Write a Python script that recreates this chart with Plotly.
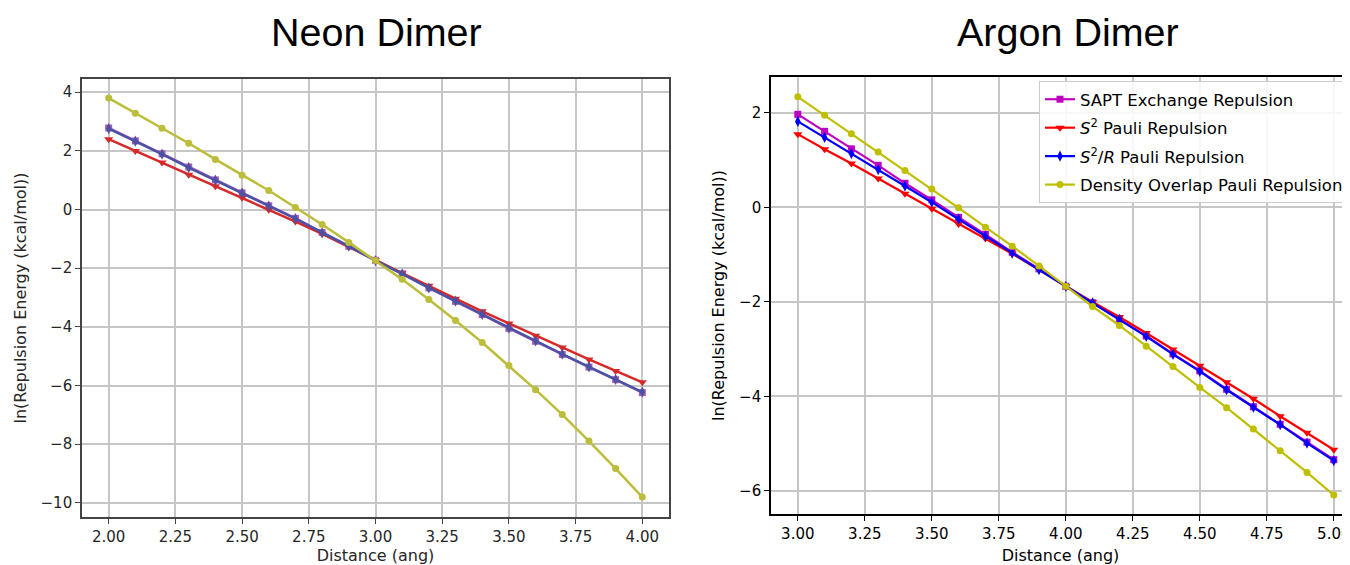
import plotly.graph_objects as go

# ---------------- data ----------------
x_ne = [2.0, 2.1, 2.2, 2.3, 2.4, 2.5, 2.6, 2.7, 2.8, 2.9, 3.0,
        3.1, 3.2, 3.3, 3.4, 3.5, 3.6, 3.7, 3.8, 3.9, 4.0]
ne_sapt = [2.78, 2.34, 1.90, 1.45, 1.01, 0.57, 0.13, -0.30, -0.78, -1.25, -1.73,
           -2.19, -2.67, -3.13, -3.58, -4.05, -4.49, -4.94, -5.37, -5.80, -6.24]
ne_s2 = [2.40, 2.00, 1.60, 1.19, 0.79, 0.40, -0.01, -0.41, -0.83, -1.28, -1.73,
         -2.17, -2.60, -3.04, -3.47, -3.88, -4.30, -4.70, -5.11, -5.50, -5.89]
ne_s2r = [2.76, 2.33, 1.89, 1.43, 1.00, 0.56, 0.12, -0.31, -0.79, -1.25, -1.74,
          -2.19, -2.67, -3.12, -3.57, -4.04, -4.48, -4.93, -5.36, -5.79, -6.22]
ne_do = [3.80, 3.28, 2.77, 2.26, 1.71, 1.17, 0.65, 0.07, -0.51, -1.12, -1.74,
         -2.38, -3.07, -3.78, -4.53, -5.32, -6.14, -6.99, -7.89, -8.83, -9.80]

x_ar = [3.0, 3.1, 3.2, 3.3, 3.4, 3.5, 3.6, 3.7, 3.8, 3.9, 4.0,
        4.1, 4.2, 4.3, 4.4, 4.5, 4.6, 4.7, 4.8, 4.9, 5.0]
ar_sapt = [1.97, 1.61, 1.24, 0.89, 0.51, 0.16, -0.21, -0.57, -0.95, -1.30, -1.67,
           -2.02, -2.37, -2.72, -3.10, -3.46, -3.85, -4.22, -4.59, -4.97, -5.34]
ar_s2 = [1.55, 1.23, 0.93, 0.61, 0.29, -0.03, -0.35, -0.66, -0.98, -1.32, -1.67,
         -2.00, -2.32, -2.66, -3.01, -3.35, -3.70, -4.05, -4.42, -4.77, -5.13]
ar_s2r = [1.82, 1.48, 1.14, 0.80, 0.45, 0.11, -0.25, -0.61, -0.97, -1.32, -1.67,
          -2.02, -2.37, -2.73, -3.11, -3.47, -3.86, -4.23, -4.60, -4.99, -5.36]
ar_do = [2.34, 1.95, 1.56, 1.17, 0.78, 0.39, -0.01, -0.42, -0.82, -1.24, -1.67,
         -2.10, -2.50, -2.94, -3.37, -3.81, -4.24, -4.69, -5.15, -5.61, -6.09]

series_names = ["SAPT Exchange Repulsion",
                "<i>S</i><sup>2</sup> Pauli Repulsion",
                "<i>S</i><sup>2</sup>/<i>R</i> Pauli Repulsion",
                "Density Overlap Pauli Repulsion"]
titles = ["Neon Dimer", "Argon Dimer"]
x_title = "Distance (ang)"
y_title = "ln(Repulsion Energy (kcal/mol))"
x_ticks_ne = [2.0, 2.25, 2.5, 2.75, 3.0, 3.25, 3.5, 3.75, 4.0]
x_ticks_ar = [3.0, 3.25, 3.5, 3.75, 4.0, 4.25, 4.5, 4.75, 5.0]
y_ticks_ne = [4, 2, 0, -2, -4, -6, -8, -10]
y_ticks_ar = [2, 0, -2, -4, -6]

# ---------------- styles ----------------
ne_colors = ["#b45ab4", "#d62a2a", "#4a52a6", "#bcbd3a"]
ar_colors = ["#bf00bf", "#ff0000", "#0000ff", "#bfbf00"]
symbols = ["square", "triangle-down", "diamond-tall", "circle"]
msizes = [7, 8, 8, 7]

# page body has an 8px margin: figure is shifted by (8, 8)
OFF = 8
W, H = 1350 - OFF, 565 - OFF

fig = go.Figure()

ne_data = [ne_sapt, ne_s2, ne_s2r, ne_do]
ar_data = [ar_sapt, ar_s2, ar_s2r, ar_do]

for i in range(4):
    fig.add_trace(go.Scatter(
        x=x_ne, y=ne_data[i], mode="lines+markers", name=series_names[i],
        line=dict(color=ne_colors[i], width=2.5),
        marker=dict(symbol=symbols[i], size=msizes[i], color=ne_colors[i]),
        showlegend=False, xaxis="x", yaxis="y"))

for i in range(4):
    fig.add_trace(go.Scatter(
        x=x_ar, y=ar_data[i], mode="lines+markers", name=series_names[i],
        legendgroup=f"g{i}",
        line=dict(color=ar_colors[i], width=2.2),
        marker=dict(symbol=symbols[i], size=msizes[i], color=ar_colors[i]),
        showlegend=True, xaxis="x2", yaxis="y2"))

font_family = "DejaVu Sans"
grid_col = "#c6c6c6"

def xpx(p):
    return (p - OFF) / W

def ypx(p):
    return 1 - (p - OFF) / H

fig.update_layout(
    width=W, height=H,
    margin=dict(l=0, r=0, t=0, b=0),
    paper_bgcolor="white", plot_bgcolor="white",
    font=dict(family=font_family, size=15, color="black"),
    xaxis=dict(domain=[xpx(82), xpx(669)], range=[1.9, 4.1],
               tickvals=x_ticks_ne, ticktext=[f"{v:.2f}" for v in x_ticks_ne],
               showgrid=True, gridcolor=grid_col, gridwidth=1.5,
               showline=True, linecolor="#444444", linewidth=1.6, mirror=True,
               ticks="outside", ticklen=5, tickcolor="#444444", tickwidth=1.3,
               tickfont=dict(size=15, color="#262626"),
               zeroline=False, automargin=False,
               title=dict(text=x_title, font=dict(size=16, color="#262626"), standoff=8),
               anchor="y"),
    yaxis=dict(domain=[ypx(517), ypx(79)], range=[-10.48, 4.45],
               tickvals=y_ticks_ne, ticktext=[str(v).replace("-", "\u2212") for v in y_ticks_ne],
               showgrid=True, gridcolor=grid_col, gridwidth=1.5,
               showline=True, linecolor="#444444", linewidth=1.6, mirror=True,
               ticks="outside", ticklen=5, tickcolor="#444444", tickwidth=1.3,
               tickfont=dict(size=15, color="#262626"),
               zeroline=False, automargin=False,
               title=dict(text=y_title, font=dict(size=16, color="#262626"), standoff=10),
               anchor="x"),
    xaxis2=dict(domain=[xpx(771), 1.0], range=[2.9, 2.9 + (1350 - 771) / 268.0],
                tickvals=x_ticks_ar, ticktext=[f"{v:.2f}" for v in x_ticks_ar],
                ticklabeloverflow="allow",
                showgrid=True, gridcolor=grid_col, gridwidth=1.5,
                showline=True, linecolor="black", linewidth=1.6, mirror=True,
                ticks="outside", ticklen=5, tickcolor="black", tickwidth=1.3,
                tickfont=dict(size=15, color="black"),
                zeroline=False, automargin=False,
                title=dict(text=x_title, font=dict(size=16, color="black"), standoff=8),
                anchor="y2"),
    yaxis2=dict(domain=[ypx(514), ypx(77)], range=[-6.49, 2.76],
                tickvals=y_ticks_ar, ticktext=[str(v).replace("-", "\u2212") for v in y_ticks_ar],
                showgrid=True, gridcolor=grid_col, gridwidth=1.5,
                showline=True, linecolor="black", linewidth=1.6, mirror=False,
                ticks="outside", ticklen=5, tickcolor="black", tickwidth=1.3,
                tickfont=dict(size=15, color="black"),
                zeroline=False, automargin=False,
                title=dict(text=y_title, font=dict(size=16, color="black"), standoff=10),
                anchor="x2"),
    legend=dict(x=xpx(1349), y=ypx(81), xanchor="right", yanchor="top",
                bgcolor="rgba(255,255,255,0.85)", bordercolor="#cccccc", borderwidth=1,
                font=dict(size=16.5, color="black", family=font_family),
                tracegroupgap=4, itemwidth=30),
    annotations=[
        dict(text=titles[0], x=xpx(376), y=ypx(32), xref="paper", yref="paper",
             showarrow=False, xanchor="center", yanchor="middle",
             font=dict(family="Liberation Sans", size=39.5, color="black")),
        dict(text=titles[1], x=xpx(1068), y=ypx(32), xref="paper", yref="paper",
             showarrow=False, xanchor="center", yanchor="middle",
             font=dict(family="Liberation Sans", size=39.5, color="black")),
    ],
)

fig.write_html("out.html")
